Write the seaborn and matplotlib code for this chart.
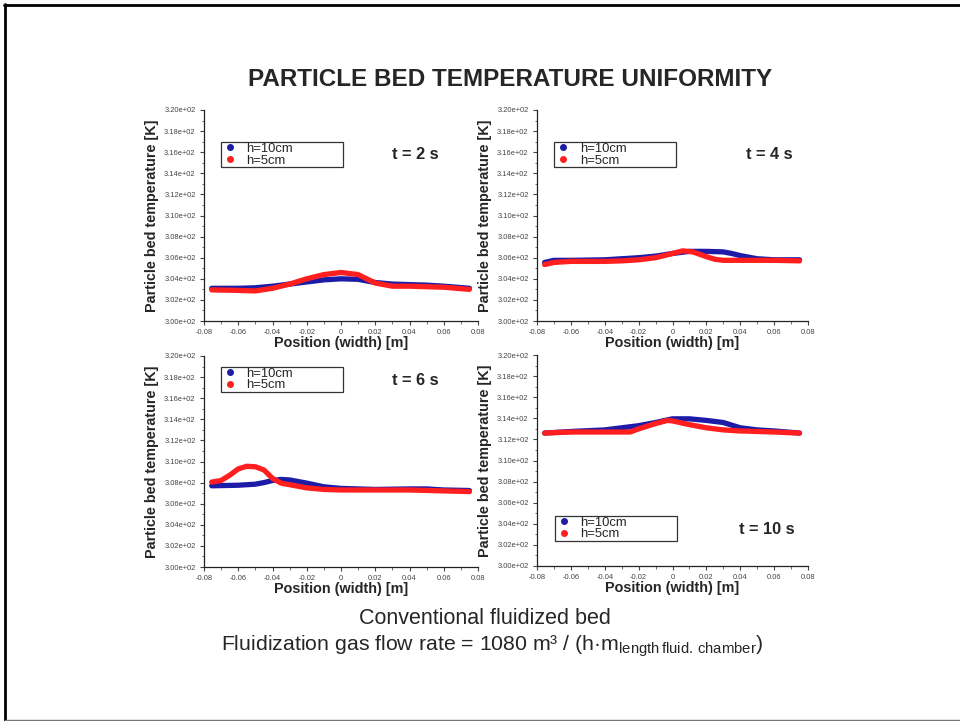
import numpy as np
import pandas as pd
import matplotlib
matplotlib.use("Agg")
import matplotlib.pyplot as plt
from matplotlib.lines import Line2D
from matplotlib.ticker import MultipleLocator, FuncFormatter
import seaborn as sns

sns.set_theme(style="white")
plt.rcParams['font.family'] = ['Liberation Sans', 'DejaVu Sans']
plt.rcParams['mathtext.fontset'] = 'custom'
plt.rcParams['mathtext.rm'] = 'Liberation Sans'
plt.rcParams['mathtext.it'] = 'Liberation Sans:italic'
plt.rcParams['mathtext.bf'] = 'Liberation Sans:bold'

# ---------------- data ----------------
times = ["t = 2 s", "t = 4 s", "t = 6 s", "t = 10 s"]
series = ["h=10cm", "h=5cm"]

x_t2_h10 = [-0.0755, -0.06, -0.05, -0.04, -0.03, -0.02, -0.01, 0.0, 0.01, 0.02, 0.03, 0.04, 0.05, 0.06, 0.075]
T_t2_h10 = [303.1, 303.1, 303.15, 303.3, 303.5, 303.7, 303.9, 304.0, 303.95, 303.65, 303.5, 303.45, 303.4, 303.3, 303.1]
x_t2_h5 = [-0.0755, -0.06, -0.05, -0.04, -0.03, -0.02, -0.01, 0.0, 0.01, 0.015, 0.02, 0.03, 0.04, 0.05, 0.06, 0.075]
T_t2_h5 = [302.95, 302.9, 302.85, 303.1, 303.5, 304.0, 304.4, 304.6, 304.4, 304.0, 303.6, 303.3, 303.3, 303.25, 303.2, 303.0]

x_t4_h10 = [-0.0755, -0.07, -0.06, -0.04, -0.02, -0.01, 0.0, 0.01, 0.02, 0.03, 0.035, 0.04, 0.05, 0.06, 0.075]
T_t4_h10 = [305.55, 305.75, 305.75, 305.8, 306.0, 306.15, 306.4, 306.6, 306.6, 306.55, 306.4, 306.2, 305.9, 305.8, 305.8]
x_t4_h5 = [-0.0755, -0.07, -0.06, -0.04, -0.03, -0.02, -0.01, 0.0, 0.006, 0.012, 0.02, 0.025, 0.03, 0.04, 0.06, 0.075]
T_t4_h5 = [305.35, 305.55, 305.65, 305.65, 305.7, 305.8, 306.0, 306.4, 306.65, 306.55, 306.1, 305.85, 305.75, 305.75, 305.75, 305.7]

x_t6_h10 = [-0.0755, -0.06, -0.05, -0.045, -0.04, -0.035, -0.03, -0.02, -0.01, 0.0, 0.02, 0.04, 0.05, 0.06, 0.075]
T_t6_h10 = [307.7, 307.75, 307.85, 308.0, 308.2, 308.3, 308.25, 307.95, 307.6, 307.45, 307.35, 307.4, 307.4, 307.3, 307.25]
x_t6_h5 = [-0.0755, -0.07, -0.065, -0.06, -0.055, -0.05, -0.045, -0.04, -0.035, -0.03, -0.02, -0.01, 0.0, 0.04, 0.075]
T_t6_h5 = [308.05, 308.2, 308.7, 309.3, 309.55, 309.5, 309.2, 308.4, 307.95, 307.8, 307.5, 307.35, 307.3, 307.3, 307.15]

x_t10_h10 = [-0.0755, -0.06, -0.04, -0.02, -0.01, 0.0, 0.01, 0.02, 0.03, 0.04, 0.05, 0.06, 0.075]
T_t10_h10 = [312.6, 312.75, 312.9, 313.3, 313.6, 313.95, 313.95, 313.8, 313.6, 313.1, 312.9, 312.8, 312.6]
x_t10_h5 = [-0.0755, -0.06, -0.04, -0.025, -0.02, -0.01, -0.003, 0.0, 0.01, 0.02, 0.03, 0.04, 0.06, 0.075]
T_t10_h5 = [312.6, 312.7, 312.7, 312.7, 313.0, 313.5, 313.8, 313.75, 313.4, 313.1, 312.9, 312.8, 312.7, 312.6]

panel_data = [
    (x_t2_h10, T_t2_h10, x_t2_h5, T_t2_h5),
    (x_t4_h10, T_t4_h10, x_t4_h5, T_t4_h5),
    (x_t6_h10, T_t6_h10, x_t6_h5, T_t6_h5),
    (x_t10_h10, T_t10_h10, x_t10_h5, T_t10_h5),
]

x_ticks = [-0.08, -0.06, -0.04, -0.02, 0.0, 0.02, 0.04, 0.06, 0.08]
y_ticks = [300, 302, 304, 306, 308, 310, 312, 314, 316, 318, 320]

title = "PARTICLE BED TEMPERATURE UNIFORMITY"
xlabel = "Position (width) [m]"
ylabel = "Particle bed temperature [K]"
caption1 = "Conventional fluidized bed"
caption2 = "Fluidization gas flow rate = 1080 m\u00b3 / (h\u00b7m$_{\\mathrm{length\\,fluid.\\,chamber}}$)"

colors = {"h=10cm": "#1c1ca8", "h=5cm": "#ff1f1f"}

# ---------------- layout ----------------
fig = plt.figure(figsize=(9.6, 7.21), dpi=100)
W, H = 960, 721

def axrect(l, r, t, b):
    return [l / W, 1 - b / H, (r - l) / W, (b - t) / H]

rects = [axrect(204, 478, 110, 321), axrect(537, 808, 110, 321),
         axrect(204, 478, 356, 567), axrect(537, 808, 355, 566)]
legend_boxes = [(0.062, 0.716, 0.445, 0.132), (0.064, 0.716, 0.449, 0.132),
                (0.062, 0.815, 0.445, 0.134), (0.066, 0.103, 0.449, 0.135)]
tpos = [(0.77, 0.787), (0.856, 0.787), (0.772, 0.886), (0.848, 0.171)]

def yfmt(v, pos):
    return "{:.2e}".format(v)

def xfmt(v, pos):
    if abs(v) < 1e-9:
        return "0"
    return "{:.2f}".format(v)

for i, (xa, ya, xb, yb) in enumerate(panel_data):
    ax = fig.add_axes(rects[i])
    df = pd.concat([
        pd.DataFrame({"x": xa, "T": ya, "series": series[0]}),
        pd.DataFrame({"x": xb, "T": yb, "series": series[1]}),
    ])
    sns.lineplot(data=df, x="x", y="T", hue="series", palette=colors,
                 linewidth=3.8, ax=ax, legend=False, sort=True,
                 solid_capstyle="round", solid_joinstyle="round")
    ax.set_xlim(-0.08, 0.08)
    ax.set_ylim(300, 320)
    ax.set_xticks(x_ticks)
    ax.set_yticks(y_ticks)
    ax.xaxis.set_minor_locator(MultipleLocator(0.01))
    ax.yaxis.set_minor_locator(MultipleLocator(1))
    ax.xaxis.set_major_formatter(FuncFormatter(xfmt))
    ax.yaxis.set_major_formatter(FuncFormatter(yfmt))
    ax.tick_params(axis="both", which="major", direction="out", length=3,
                   width=0.8, color="#444444", labelsize=5.4, labelcolor="#444444",
                   pad=3, bottom=True, left=True)
    ax.tick_params(axis="both", which="minor", direction="out", length=1.8,
                   width=0.6, color="#555555", bottom=True, left=True)
    for s in ["top", "right"]:
        ax.spines[s].set_visible(False)
    for s in ["left", "bottom"]:
        ax.spines[s].set_color("#222222")
        ax.spines[s].set_linewidth(0.9)
    ax.set_facecolor("white")
    ax.grid(False)
    ax.set_xlabel(xlabel, fontsize=10.4, fontweight="bold", labelpad=0)
    ax.set_ylabel(ylabel, fontsize=10.4, fontweight="bold", labelpad=4)
    ax.text(tpos[i][0], tpos[i][1], times[i], transform=ax.transAxes,
            fontsize=11.8, fontweight="bold", ha="center", va="center")
    handles = [Line2D([], [], linestyle="none", marker="o", markersize=4,
                      color=colors[s]) for s in series]
    leg = ax.legend(handles, series, loc="upper left",
                    bbox_to_anchor=legend_boxes[i], mode="expand",
                    borderaxespad=0, fontsize=9.4, frameon=True, fancybox=False,
                    labelspacing=-0.02, handletextpad=0.6, handlelength=1.3,
                    borderpad=0.05)
    fr = leg.get_frame()
    fr.set_edgecolor("#333333")
    fr.set_linewidth(0.9)
    fr.set_alpha(1)

fig.text(510 / W, 1 - 80 / H, title, fontsize=17.5, fontweight="bold",
         ha="center", va="center")
fig.text(485 / W, 1 - 619 / H, caption1, fontsize=15.5, ha="center", va="center")
fig.text(492 / W, 1 - 646 / H, caption2, fontsize=15.3, ha="center", va="center")

# slide frame (left, top, bottom edges)
fig.add_artist(Line2D([4.5 / W, 4.5 / W], [1 - 721 / H, 1 - 3.5 / H],
                      transform=fig.transFigure, color="black", linewidth=2))
fig.add_artist(Line2D([3.5 / W, 1.0], [1 - 4.5 / H, 1 - 4.5 / H],
                      transform=fig.transFigure, color="black", linewidth=2))
fig.add_artist(Line2D([4.5 / W, 1.0], [1 - 719.5 / H, 1 - 719.5 / H],
                      transform=fig.transFigure, color="#777777", linewidth=1))

fig.savefig("out.png", dpi=100, facecolor="white")
